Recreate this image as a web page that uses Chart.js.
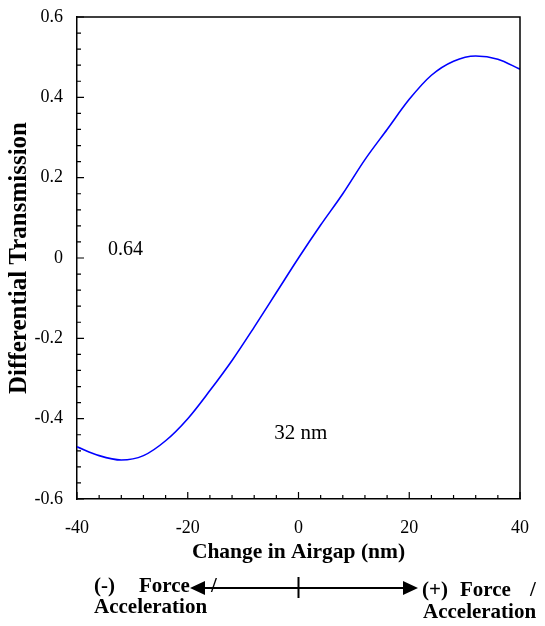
<!DOCTYPE html>
<html>
<head>
<meta charset="utf-8">
<script src="https://cdn.jsdelivr.net/npm/chart.js@4.4.1/dist/chart.umd.min.js"></script>
<style>
    html, body { margin: 0; padding: 0; background: #fff; }
    canvas { display: block; }
</style>
</head>
<body>
<canvas id="airgapChart" width="545" height="626"></canvas>
<script>
// values
const airgap = [-40, -36, -32, -28, -24, -20, -16, -12, -8, -4, 0, 4, 8, 12, 16, 20, 24, 28, 32, 36, 40];
const transmission = [-0.470, -0.492, -0.503, -0.492, -0.455, -0.400, -0.330, -0.255, -0.172, -0.086, 0.0,
    0.082, 0.160, 0.245, 0.320, 0.395, 0.455, 0.490, 0.503, 0.495, 0.470];

const xTicks = [-40, -20, 0, 20, 40];
const yTicks = [-0.6, -0.4, -0.2, 0, 0.2, 0.4, 0.6];
const yTickLabels = ["-0.6", "-0.4", "-0.2", "0", "0.2", "0.4", "0.6"];

const serif = "'Liberation Serif', 'Times New Roman', serif";

// keep chart.js from adding room for the end labels
function noEdgePadding(s) {
    s.paddingTop = 0;
    s.paddingBottom = 0;
    s.paddingLeft = 0;
    s.paddingRight = 0;
}

// frame, inward ticks and the notes under the plot
const extras = {
    id: "extras",
    afterDraw(chart) {
        const { ctx, chartArea: a, scales: { x, y } } = chart;
        ctx.save();
        ctx.strokeStyle = "#000";
        ctx.fillStyle = "#000";

        ctx.lineWidth = 1.5;
        ctx.beginPath();
        ctx.moveTo(a.left, a.top);
        ctx.lineTo(a.right, a.top);
        ctx.lineTo(a.right, a.bottom);
        ctx.stroke();

        ctx.lineWidth = 1.2;
        ctx.beginPath();
        for (let k = 0; k <= 20; k++) {
            const px = x.getPixelForValue(-40 + k * 4);
            const len = k % 5 === 0 ? 7 : 4;
            ctx.moveTo(px, a.bottom);
            ctx.lineTo(px, a.bottom - len);
        }
        for (let k = 0; k <= 30; k++) {
            const py = y.getPixelForValue(-0.6 + k * 0.04);
            const len = k % 5 === 0 ? 7 : 4;
            ctx.moveTo(a.left, py);
            ctx.lineTo(a.left + len, py);
        }
        ctx.stroke();

        ctx.textBaseline = "middle";
        ctx.textAlign = "left";
        ctx.font = "20px " + serif;
        ctx.fillText("0.64", x.getPixelForValue(-34.4), y.getPixelForValue(0.021));
        ctx.font = "21px " + serif;
        ctx.fillText("32 nm", x.getPixelForValue(-4.4), y.getPixelForValue(-0.436));

        // direction arrow
        const ay = 588, cx = x.getPixelForValue(0);
        const l = 190, r = 418;
        ctx.lineWidth = 2;
        ctx.beginPath();
        ctx.moveTo(l + 10, ay);
        ctx.lineTo(r - 10, ay);
        ctx.moveTo(cx, ay - 11);
        ctx.lineTo(cx, ay + 10);
        ctx.stroke();
        ctx.beginPath();
        ctx.moveTo(l, ay);
        ctx.lineTo(l + 15, ay - 7);
        ctx.lineTo(l + 15, ay + 7);
        ctx.closePath();
        ctx.moveTo(r, ay);
        ctx.lineTo(r - 15, ay - 7);
        ctx.lineTo(r - 15, ay + 7);
        ctx.closePath();
        ctx.fill();

        ctx.font = "bold 21px " + serif;
        ctx.fillText("(-)", 94, 587);
        ctx.fillText("Force", 139, 587);
        ctx.fillText("/", 211, 587);
        ctx.fillText("Acceleration", 94, 608);
        ctx.fillText("(+)", 422, 591);
        ctx.fillText("Force", 460, 591);
        ctx.fillText("/", 530, 591);
        ctx.fillText("Acceleration", 423, 613);
        ctx.restore();
    }
};

new Chart(document.getElementById("airgapChart"), {
    type: "scatter",
    data: {
        datasets: [{
            data: airgap.map((v, i) => ({ x: v, y: transmission[i] })),
            showLine: true,
            borderColor: "#0000ff",
            borderWidth: 1.6,
            pointRadius: 0,
            cubicInterpolationMode: "monotone"
        }]
    },
    options: {
        responsive: false,
        animation: false,
        layout: { padding: { top: 17, right: 25, left: 0, bottom: 61 } },
        plugins: {
            legend: { display: false },
            tooltip: { enabled: false }
        },
        scales: {
            x: {
                type: "linear",
                min: -40,
                max: 40,
                afterBuildTicks: s => { s.ticks = xTicks.map(v => ({ value: v })); },
                afterFit: s => { s.height = 66; noEdgePadding(s); },
                grid: { display: false, drawTicks: false },
                border: { display: true, color: "#000", width: 1.5 },
                ticks: {
                    color: "#000",
                    padding: 18,
                    maxRotation: 0,
                    font: { family: serif, size: 18 }
                },
                title: {
                    display: true,
                    text: "Change in Airgap (nm)",
                    color: "#000",
                    padding: { top: 0, bottom: 0 },
                    font: { family: serif, size: 21.5, weight: "bold" }
                }
            },
            y: {
                min: -0.6,
                max: 0.6,
                afterBuildTicks: s => { s.ticks = yTicks.map(v => ({ value: v })); },
                afterFit: s => { s.width = 77; noEdgePadding(s); },
                grid: { display: false, drawTicks: false },
                border: { display: true, color: "#000", width: 1.5 },
                ticks: {
                    color: "#000",
                    padding: 14,
                    font: { family: serif, size: 18 },
                    callback: (v, i) => yTickLabels[i]
                },
                title: {
                    display: true,
                    text: "Differential Transmission",
                    color: "#000",
                    padding: { top: 5, bottom: 0 },
                    font: { family: serif, size: 25, weight: "bold" }
                }
            }
        }
    },
    plugins: [extras]
});
</script>
</body>
</html>
